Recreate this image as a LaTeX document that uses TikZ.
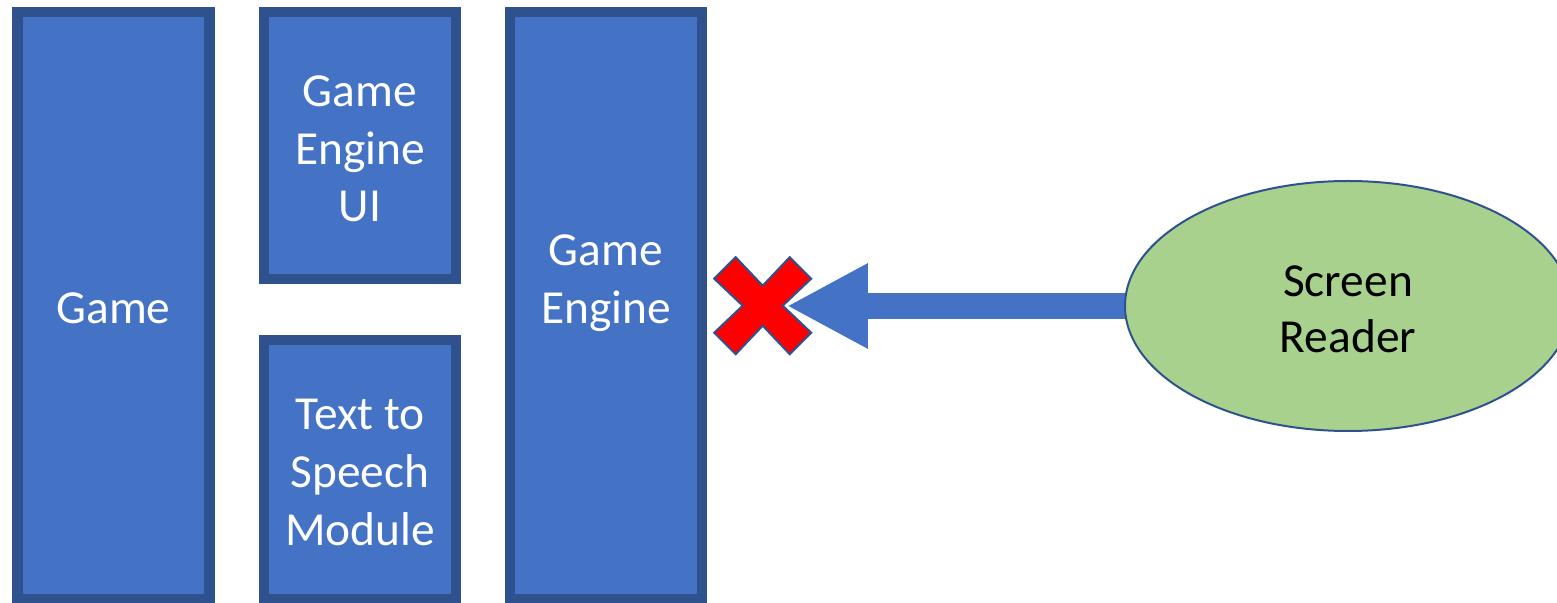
\documentclass[tikz,border=0pt]{standalone}
\usepackage{fontspec}
\setmainfont{Carlito}
\usetikzlibrary{shapes.geometric,arrows.meta,backgrounds}
\definecolor{boxfill}{HTML}{4472C4}
\definecolor{boxline}{HTML}{2F528F}
\definecolor{readerfill}{HTML}{A9D18E}
\definecolor{crossred}{HTML}{FF0000}
\tikzset{
  block/.style={draw=boxline, fill=boxfill, line width=5.25pt, rectangle, inner sep=0pt},
  blocktext/.style={text=white, align=center, inner sep=0pt,
    font=\fontsize{23.7pt}{28.8pt}\selectfont},
  reader/.style={ellipse, draw=boxline, fill=readerfill, line width=1pt,
    minimum width=223pt, minimum height=125pt, inner sep=0pt, align=center,
    font=\fontsize{23.7pt}{28.2pt}\selectfont},
  bigarrow/.style={draw=boxfill, line width=13.3pt,
    -{Triangle[length=40.6pt,width=39.7pt]}},
  crossmark/.style={fill=crossred, draw=boxline, line width=1pt, line join=miter}
}
\begin{document}
\begin{tikzpicture}[x=0.5pt, y=-0.5pt]
  \useasboundingbox (0,0) rectangle (1557,603);
  \clip (0,0) rectangle (1557,603);

  % the four stacked blocks
  \node[block, minimum width=96pt, minimum height=293.4pt] (game) at (113.5,305.6) {};
  \node[block, minimum width=96pt, minimum height=133.4pt] (ui) at (360,145.6) {};
  \node[block, minimum width=96pt, minimum height=129.4pt] (tts) at (360,469.6) {};
  \node[block, minimum width=96pt, minimum height=293.4pt] (engine) at (606,305.6) {};

  % block captions
  \node[blocktext] (gameT) at (113.5,308) {Game};
  \node[blocktext] (uiT) at (360,149) {Game\\Engine\\UI};
  \node[blocktext] (ttsT) at (360,472.5) {Text to\\Speech\\Module};
  \node[blocktext] (engineT) at (606,283) {Game\\Engine};

  % screen reader
  \node[reader] (sr) at (1348,306) {};
  \node[font=\fontsize{23.7pt}{28.2pt}\selectfont, align=center, inner sep=0pt]
    (srT) at (1348,309) {Screen\\Reader};

  % blocked connection
  \coordinate (x) at (762.7,305.7);
  \coordinate (tip) at (786.7,306);
  \begin{scope}[on background layer]
    \draw[bigarrow] (sr.west) ++(10,0) -- (tip);
  \end{scope}
  \filldraw[crossmark] (x)
    ++(0,-20) -- ++(27,-28.5) -- ++(21.5,21.5) -- ++(-28.5,27)
    -- ++(28.5,27) -- ++(-21.5,21.5) -- ++(-27,-28.5)
    -- ++(-27,28.5) -- ++(-21.5,-21.5) -- ++(28.5,-27)
    -- ++(-28.5,-27) -- ++(21.5,-21.5) -- cycle;
\end{tikzpicture}
\end{document}
